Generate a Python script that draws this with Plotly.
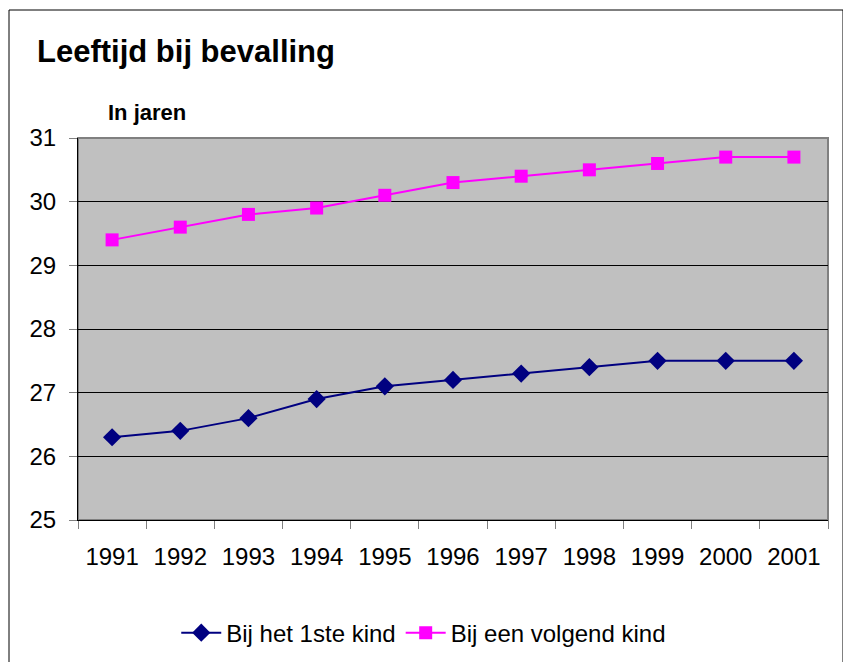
import plotly.graph_objs as go

years = ["1991", "1992", "1993", "1994", "1995", "1996", "1997", "1998", "1999", "2000", "2001"]
eerste_kind = [26.3, 26.4, 26.6, 26.9, 27.1, 27.2, 27.3, 27.4, 27.5, 27.5, 27.5]
volgend_kind = [29.4, 29.6, 29.8, 29.9, 30.1, 30.3, 30.4, 30.5, 30.6, 30.7, 30.7]

font = "Arial, Liberation Sans, sans-serif"

fig = go.Figure()

fig.add_trace(go.Scatter(x=years, y=eerste_kind, mode="lines+markers",
                         name="Bij het 1ste kind",
                         line=dict(color="#000080", width=2),
                         marker=dict(symbol="diamond", size=14, color="#000080")))
fig.add_trace(go.Scatter(x=years, y=volgend_kind, mode="lines+markers",
                         name="Bij een volgend kind",
                         line=dict(color="#FF00FF", width=2),
                         marker=dict(symbol="square", size=13, color="#FF00FF")))

# the page body adds 8px around the figure, so the sizes below allow for that
fig.update_layout(
    width=843, height=654,
    margin=dict(l=70, r=23, t=130, b=142, autoexpand=False),
    paper_bgcolor="white", plot_bgcolor="#C0C0C0",
    font=dict(family=font, size=24, color="black"),
    title=dict(text="<b>Leeftijd bij bevalling</b>", x=29 / 843, xanchor="left",
               yref="container", y=1 - 43 / 654, yanchor="middle", font=dict(size=31)),
    legend=dict(orientation="h", x=0.461, xanchor="center", y=-0.296, yanchor="middle",
                font=dict(size=24), itemwidth=40, traceorder="normal"),
    xaxis=dict(type="category", tickson="boundaries", ticks="outside", ticklen=8,
               tickcolor="#808080", showgrid=False, showline=True, linecolor="black",
               linewidth=1, ticklabelstandoff=15, range=[-0.5, 10.5]),
    yaxis=dict(range=[25, 31], dtick=1, ticks="outside", ticklen=8, tickcolor="#808080",
               showgrid=True, gridcolor="black", gridwidth=1, showline=True,
               linecolor="black", linewidth=1, zeroline=False, ticklabelstandoff=8),
)

# plot area frame, gray
fig.add_shape(type="rect", xref="paper", yref="paper", x0=0, x1=1, y0=0, y1=1,
              line=dict(color="#808080", width=2), layer="below")
# outer chart border
fig.add_shape(type="rect", xref="paper", yref="paper",
              x0=(9 - 78) / 750, x1=(843 - 78) / 750,
              y0=(520 - 700) / 382, y1=(520 - 10) / 382,
              line=dict(color="black", width=1))

fig.add_annotation(text="<b>In jaren</b>", xref="paper", yref="paper",
                   x=(106 - 78) / 750, xanchor="left", y=(520 - 112) / 382,
                   yanchor="middle", showarrow=False, font=dict(size=22))

fig.write_html("out.html")
